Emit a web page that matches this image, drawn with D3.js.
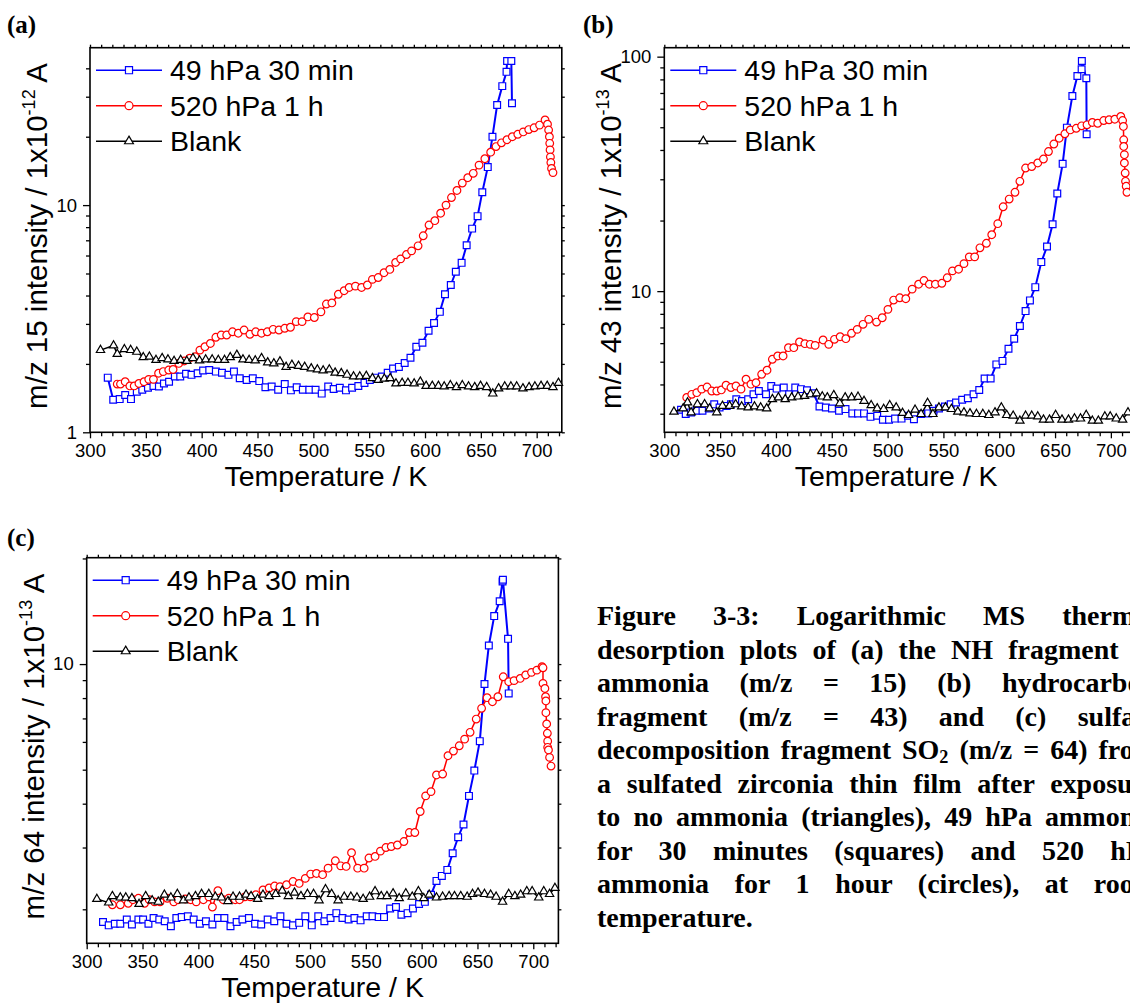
<!DOCTYPE html>
<html><head><meta charset="utf-8">
<script src="https://cdn.jsdelivr.net/npm/d3@7"></script>
<style>
html,body{margin:0;padding:0;overflow:hidden;background:#fff;}
#wrap{position:relative;width:1130px;height:1003px;overflow:hidden;background:#fff;}
#chart{position:absolute;left:0;top:0;}
#caption{position:absolute;left:597px;top:599px;width:560px;font-family:"Liberation Serif","Times New Roman",serif;font-weight:bold;font-size:28px;line-height:33.5px;color:#000;}
#caption .ln{text-align:justify;text-align-last:justify;height:33.5px;}
#caption .ln.last{text-align:left;text-align-last:left;}
#caption sub{font-size:0.65em;vertical-align:-0.22em;line-height:0;}
</style>
</head><body>
<div id="wrap"><svg id="chart" width="1130" height="1003"></svg><div id="caption"></div></div>
<script>
// ---------- data (Temperature K, intensity) ----------
const xMajorTicks = [300,350,400,450,500,550,600,650,700];
const xMinorTicks = [310,320,330,340,360,370,380,390,410,420,430,440,460,470,480,490,510,520,530,540,560,570,580,590,610,620,630,640,660,670,680,690,710,720];
const seriesNames = ["49 hPa 30 min","520 hPa 1 h","Blank"];

const a49 = [[315.9,1.74],[320.8,1.39],[326.6,1.40],[331.5,1.46],[336.7,1.40],[341.9,1.51],[346.8,1.54],[351.9,1.57],[356.8,1.60],[361.7,1.59],[366.2,1.64],[370.8,1.67],[376,1.76],[380.8,1.76],[386,1.81],[390.9,1.79],[396.4,1.82],[401.3,1.87],[406.8,1.88],[412.7,1.85],[418.2,1.83],[424,1.79],[428.9,1.85],[434.1,1.73],[440.3,1.70],[445.8,1.73],[451.6,1.68],[457.1,1.58],[462.7,1.59],[468.5,1.54],[474.4,1.63],[479.9,1.53],[485.1,1.58],[490.6,1.54],[496.4,1.54],[502,1.54],[507.5,1.48],[513.3,1.59],[518.2,1.55],[523.7,1.57],[529.2,1.53],[534.7,1.57],[540.3,1.60],[545.8,1.65],[550.6,1.70],[556.2,1.74],[561.4,1.76],[566.6,1.83],[571.4,1.91],[576.6,1.94],[581.8,2.02],[587,2.13],[592.2,2.38],[597.7,2.48],[603.2,2.80],[608.1,3.03],[613.3,3.39],[617.9,4.05],[623.1,4.45],[627.6,5.09],[632.8,5.57],[637.3,6.66],[642.2,7.88],[647.1,8.94],[651.3,11.4],[656.2,14.7],[660.4,20.0],[664.6,27.6],[669.2,33.4],[673,38.6],[673.5,43.1],[677.3,43.1],[677.9,28.1]];
const a520 = [[324.4,1.63],[327.3,1.63],[331.5,1.67],[335.7,1.60],[339.6,1.60],[343.8,1.64],[348.4,1.67],[352.6,1.71],[356.8,1.71],[361.4,1.82],[365.6,1.85],[370.5,1.88],[374.4,1.89],[379.5,2.01],[384.4,2.06],[389.3,2.12],[394.2,2.15],[398.4,2.30],[402.9,2.38],[407.8,2.46],[412.7,2.62],[417.5,2.68],[422.4,2.68],[427.6,2.77],[432.8,2.73],[438,2.82],[443.2,2.70],[448.4,2.77],[453.6,2.73],[458.8,2.77],[464,2.84],[469.2,2.82],[474.4,2.87],[479.5,2.90],[484.7,3.07],[489.9,3.07],[495.1,3.22],[500.9,3.20],[506.8,3.39],[511.7,3.67],[516.6,3.71],[522.4,4.05],[527.6,4.20],[532.1,4.34],[537.7,4.40],[543.2,4.34],[548.4,4.45],[552.9,4.71],[558.1,4.80],[563.3,5.04],[568.5,5.21],[573.7,5.59],[578.2,5.80],[583.4,6.06],[588,6.29],[593.8,6.62],[598.4,7.33],[603.6,8.17],[608.8,8.54],[614,9.21],[618.8,10.0],[623.7,10.8],[628.6,11.6],[633.4,12.5],[638.3,13.2],[643.2,13.8],[648.4,15.0],[653.6,16.0],[658.8,17.1],[663.6,18.1],[668.5,18.8],[673.4,19.4],[678.2,20.0],[683.1,20.5],[688,21.0],[692.9,21.5],[697.7,21.9],[702.6,22.5],[707.5,23.7],[709.7,22.7],[710.7,21.4],[711.4,20.0],[711.7,18.7],[712,17.5],[712.3,16.3],[712.7,15.4],[713.3,14.5],[714.6,13.9]];
const aBlank = [[309.4,2.30],[321.1,2.41],[324.4,2.21],[330.8,2.32],[336.4,2.30],[341.9,2.26],[347.7,2.14],[353.2,2.15],[359.1,2.08],[364.6,2.12],[369.8,2.09],[375.3,2.06],[381.2,2.08],[386.7,2.06],[392.2,2.12],[398.1,2.07],[403.6,2.09],[409.4,2.09],[414.9,2.08],[420.5,2.08],[425.6,2.14],[431.5,2.19],[437,2.09],[442.5,2.08],[448,2.07],[453.6,2.12],[459.1,2.03],[464.6,2.01],[470.1,2.05],[475.6,1.94],[480.8,1.98],[486.7,1.96],[492.2,1.94],[498.1,1.91],[503.6,1.89],[508.8,1.87],[514.3,1.89],[519.5,1.83],[525,1.82],[530.2,1.79],[536,1.76],[541.6,1.76],[547.4,1.77],[552.9,1.73],[558.1,1.70],[563.6,1.72],[568.8,1.73],[574,1.64],[579.5,1.65],[584.7,1.65],[590.3,1.64],[595.8,1.67],[601,1.60],[606.5,1.60],[612,1.60],[617.2,1.59],[622.7,1.61],[628.2,1.58],[633.4,1.61],[639,1.59],[644.5,1.58],[649.7,1.60],[655.2,1.58],[660.7,1.48],[665.9,1.56],[671.4,1.59],[676.9,1.59],[682.1,1.59],[687.7,1.56],[693.2,1.58],[698.4,1.59],[703.9,1.60],[709.4,1.60],[714.6,1.58],[719.5,1.65]];

const b49 = [[315,3.12],[319.2,2.99],[324,3.04],[328.8,3.09],[334.2,3.09],[339.9,3.16],[344.7,3.29],[349.5,3.19],[355.9,3.24],[359.7,3.29],[364.5,3.46],[369.6,3.40],[375.1,3.46],[379.9,3.63],[384.7,3.75],[391.1,3.63],[395.8,3.94],[400.6,3.84],[407,3.88],[411.8,3.63],[417.3,3.88],[422.4,3.82],[427.8,3.78],[433.5,3.67],[439,3.22],[444.7,3.19],[450.2,3.16],[456.5,3.09],[462.3,3.14],[468.4,3.01],[473.5,3.01],[478.9,3.01],[484.7,2.91],[490.7,2.94],[495.8,2.83],[501.3,2.83],[506.7,2.86],[512.5,2.86],[518.2,2.94],[523.6,2.84],[530,2.99],[536.4,3.01],[541.2,3.09],[546,3.16],[551.4,3.22],[556.5,3.29],[561.3,3.35],[566.8,3.44],[571.9,3.49],[577,3.63],[582.1,3.79],[586.9,4.24],[592.3,4.24],[597.4,4.87],[602.9,5.04],[608.3,5.68],[613.4,6.27],[618.5,7.10],[623.6,8.22],[627.5,9.13],[632.3,10.4],[637.7,13.3],[642.8,15.5],[647.8,19.3],[652,26.1],[656.8,34.9],[660.6,49.8],[665.5,68.0],[670,82.7],[673.8,88.4],[674,95.9],[678,80.9],[678.3,46.7]];
const b520 = [[320.1,3.52],[324.6,3.63],[329.1,3.69],[333.5,3.82],[338.3,3.90],[342.5,3.75],[347,3.75],[351.1,3.79],[355.3,3.97],[359.7,3.88],[364.2,3.94],[368.7,3.82],[373.2,4.21],[377.6,4.01],[382.1,4.07],[387.2,4.42],[392,4.60],[396.8,5.12],[401.6,5.29],[406.4,5.29],[411.2,5.74],[416,5.74],[421.1,6.07],[425.9,5.97],[430.7,5.93],[435.1,5.87],[442.2,6.19],[447.3,5.93],[452.4,6.23],[457.5,6.39],[462.6,6.27],[467.7,6.61],[472.8,6.87],[478,7.22],[483.1,7.58],[490.1,7.38],[495.2,7.70],[500.3,8.36],[505.4,9.16],[510.9,9.37],[516.3,9.28],[522,10.2],[527.8,10.7],[532.6,11.1],[537.4,10.7],[542.8,10.7],[548.6,10.8],[553.4,11.4],[558.1,12.2],[563.6,12.4],[568.4,13.1],[573.2,14.0],[578,14.0],[582.7,15.3],[588.5,16.0],[593.3,17.4],[598.7,19.4],[603.5,22.9],[608.9,24.7],[614.1,26.4],[618.5,29.4],[623.6,33.5],[629.1,34.0],[634.5,35.2],[639.6,36.6],[644.1,39.4],[648.9,42.4],[653.7,44.9],[658.8,46.9],[663.6,48.7],[669,49.5],[673.8,50.7],[678.6,51.2],[683.4,52.4],[688.2,52.0],[693.6,53.4],[698.4,53.8],[703.5,54.1],[708.9,55.6],[710.5,53.4],[711.2,50.4],[711.5,44.2],[711.5,41.4],[712.1,38.2],[712.1,35.2],[712.8,31.9],[713.1,29.4],[713.7,28.0],[714.4,26.4]];
const bBlank = [[308.6,3.06],[316.9,3.16],[320.8,3.35],[324,3.04],[329.7,3.29],[336.1,3.29],[340.6,3.16],[347,3.04],[352.1,3.24],[358.5,3.24],[363.9,3.29],[369.3,3.22],[375.1,3.19],[380.8,3.22],[386.3,3.19],[391.7,3.16],[396.8,3.46],[402.2,3.52],[408.3,3.46],[414.1,3.52],[419.8,3.55],[425.6,3.57],[431,3.63],[436.4,3.66],[441.5,3.55],[446,3.52],[451.8,3.60],[457.2,3.32],[462,3.52],[467.7,3.52],[473.5,3.54],[478.9,3.40],[485.3,3.26],[490.7,3.16],[496.5,3.14],[501.9,3.26],[507.7,3.19],[513.4,3.02],[518.8,2.96],[524.6,3.12],[530,2.99],[535.8,3.33],[540.6,2.99],[546,3.19],[551.8,3.19],[557.2,3.14],[562.9,3.06],[568.4,3.04],[573.8,3.01],[579.6,2.99],[585.3,2.99],[590.7,2.96],[596.2,3.04],[601.9,3.19],[606.7,2.96],[612.5,2.94],[618.5,2.80],[623.6,2.94],[629.1,2.94],[634.5,2.92],[639.6,2.83],[645,2.83],[650.5,2.96],[656.2,2.83],[662,2.83],[667.4,2.86],[672.8,2.86],[677.9,2.96],[683.4,2.80],[688.8,2.80],[694.6,2.92],[699.4,2.92],[704.8,2.86],[710.5,2.83],[715.3,3.04]];

const c49 = [[314.6,1.84],[319.7,1.80],[325.2,1.82],[330.1,1.82],[335.9,1.87],[340.5,1.81],[346.3,1.87],[350.5,1.87],[355.3,1.82],[359.9,1.89],[365,1.87],[369.9,1.85],[375.4,1.79],[380.3,1.89],[385.1,1.90],[390.6,1.91],[395.8,1.87],[401.3,1.82],[406.8,1.85],[412.6,1.81],[417.5,1.89],[423.3,1.89],[428.8,1.79],[434.3,1.84],[439.5,1.87],[445.3,1.89],[450.8,1.82],[456.3,1.81],[462.1,1.87],[468,1.85],[473.5,1.91],[479,1.82],[484.8,1.80],[490.3,1.83],[495.8,1.91],[501.6,1.80],[507.4,1.91],[512.9,1.85],[518.4,1.89],[523.6,1.95],[529.1,1.89],[534.6,1.87],[539.8,1.89],[545.3,1.86],[550.8,1.91],[556,1.91],[561.5,1.90],[566.3,1.90],[571.8,2.01],[577,2.03],[581.9,1.93],[587.4,1.95],[592.2,2.01],[597.7,2.07],[602.9,2.10],[608.4,2.20],[613.3,2.41],[618.1,2.49],[623,2.59],[627.8,2.89],[632.7,3.21],[637.5,3.49],[642.4,4.21],[647.2,4.97],[652.1,6.03],[656.3,8.77],[660.2,11.3],[665,13.7],[669.9,15.1],[672.5,17.2],[672.8,17.4],[677.4,11.8],[678,8.25]];
const c520 = [[323,2.06],[330.1,2.06],[337.2,2.08],[341.4,2.13],[346.3,2.15],[351.8,2.08],[356,2.13],[360.8,2.10],[365.7,2.10],[372.2,2.15],[378,2.10],[381.9,2.13],[388.3,2.14],[393.2,2.13],[398.1,2.10],[404.5,2.13],[409.4,2.17],[412.6,2.03],[417.5,2.26],[422.3,2.13],[427.2,2.15],[433,2.13],[436.9,2.13],[441.7,2.17],[446.6,2.17],[451.5,2.20],[457.9,2.27],[463.4,2.30],[468.3,2.33],[473.1,2.32],[479,2.35],[484.8,2.40],[490.3,2.37],[495.8,2.45],[500.6,2.52],[505.8,2.53],[511.3,2.51],[516.2,2.62],[522.7,2.75],[527.5,2.66],[532.4,2.65],[537.2,2.90],[542.7,2.62],[548.5,2.62],[552.8,2.80],[558.3,2.83],[563.1,2.93],[568,3.00],[572.8,3.02],[578.3,3.05],[584.1,3.12],[589,3.31],[593.9,3.31],[598.7,3.80],[603.6,4.21],[608.4,4.33],[613.3,4.83],[618.8,4.86],[623.6,5.48],[628.5,5.65],[633.7,5.85],[638.5,6.11],[643.4,6.39],[648.9,6.97],[653.7,7.48],[658.6,8.02],[663.4,7.81],[668.3,8.07],[673.1,9.20],[678,8.91],[682.8,8.97],[688.3,9.10],[693.2,9.31],[698.4,9.47],[703.2,9.61],[707.8,9.83],[708.7,9.76],[708.7,8.81],[710.4,8.52],[711,8.07],[711.3,7.85],[711.3,7.27],[712,6.75],[712.6,6.35],[712.9,6.03],[712.9,5.79],[713.6,5.69],[714.6,5.42],[715.9,5.12]];
const cBlank = [[309.1,2.14],[319.7,2.09],[323,2.18],[330.1,2.16],[335,2.16],[340.5,2.15],[346.9,2.07],[352.8,2.18],[358.6,2.12],[364.1,2.10],[369.6,2.20],[375.4,2.16],[381.2,2.21],[386.7,2.12],[391.6,2.16],[397.4,2.18],[402.9,2.21],[409.4,2.21],[415.2,2.17],[420.7,2.16],[426.5,2.11],[431.1,2.17],[436.9,2.17],[442.7,2.20],[447.2,2.18],[453.1,2.14],[457.9,2.20],[463.4,2.18],[469.3,2.21],[475.1,2.26],[480.6,2.18],[486.1,2.23],[491.9,2.18],[497.7,2.21],[503.2,2.21],[508.1,2.12],[513.9,2.28],[519.4,2.21],[525.2,2.12],[530.7,2.17],[536.6,2.17],[542.1,2.16],[547.6,2.14],[553.4,2.17],[558.3,2.25],[563.8,2.18],[568.9,2.18],[574.4,2.22],[579.9,2.15],[585.8,2.22],[591.6,2.17],[597.1,2.25],[601.9,2.15],[606.8,2.20],[613.3,2.16],[618.8,2.17],[624.6,2.18],[629.4,2.18],[635,2.18],[640.8,2.17],[645.6,2.21],[650.5,2.23],[656.3,2.21],[661.8,2.20],[666.7,2.17],[672.5,2.10],[678,2.21],[683.5,2.18],[688.7,2.20],[694.2,2.25],[699,2.25],[704.9,2.16],[709.4,2.25],[714.6,2.21],[719.4,2.30]];

const aYMajor = [1,10], aYMinor = [2,3,4,5,6,7,8,9,20,30,40];
const bYMajor = [10,100], bYMinor = [3,4,5,6,7,8,9,20,30,40,50,60,70,80,90];
const cYMajor = [10], cYMinor = [2,3,4,5,6,7,8,9,20];

const captionLines = [
 'Figure 3-3: Logarithmic MS thermal',
 'desorption plots of (a) the NH fragment of',
 'ammonia (m/z = 15) (b) hydrocarbon',
 'fragment (m/z = 43) and (c) sulfate',
 'decomposition fragment SO<sub>2</sub> (m/z = 64) from',
 'a sulfated zirconia thin film after exposure',
 'to no ammonia (triangles), 49 hPa ammonia',
 'for 30 minutes (squares) and 520 hPa',
 'ammonia for 1 hour (circles), at room',
 'temperature.'
];

// ---------- layout ----------
const SANS = '"Liberation Sans", Arial, sans-serif';
const SERIF = '"Liberation Serif", "Times New Roman", serif';
const xDomain = [300, 722.5];
const styles = [
  {color:'#0000ff', width:2, symbol:d3.symbolSquare, size:46},
  {color:'#ff0000', width:1.5, symbol:d3.symbolCircle, size:46},
  {color:'#000000', width:1.5, symbol:d3.symbolTriangle, size:30}
];
const panels = [
  {label:'(a)', lx:7, ly:33, left:90, right:561.8, top:47.7, bottom:432.3, yDomain:[1,49.3], yMajor:aYMajor, yMinor:aYMinor, mz:'15', ex:'-12', data:[a49,a520,aBlank], tdx:0},
  {label:'(b)', lx:583, ly:33, left:664.3, right:1136, top:47.7, bottom:432.3, yDomain:[2.5,109.2], yMajor:bYMajor, yMinor:bYMinor, mz:'43', ex:'-13', data:[b49,b520,bBlank], tdx:-4},
  {label:'(c)', lx:7, ly:546, left:86.7, right:558.4, top:557.7, bottom:943.3, yDomain:[1.6,20.1], yMajor:cYMajor, yMinor:cYMinor, mz:'64', ex:'-13', data:[c49,c520,cBlank], tdx:0}
];

const svg = d3.select('#chart');

function styleAxis(sel){
  sel.attr('font-family', SANS).attr('font-size', 18.5);
  sel.select('.domain').remove();
  sel.selectAll('line').attr('stroke','#000').attr('stroke-width',1.3);
  sel.selectAll('text').attr('fill','#000');
}

panels.forEach(p => {
  const x = d3.scaleLinear().domain(xDomain).range([p.left, p.right]);
  const y = d3.scaleLog().domain(p.yDomain).range([p.bottom, p.top]);
  const g = svg.append('g');

  // bottom axis
  g.append('g').attr('transform',`translate(0,${p.bottom})`)
    .call(d3.axisBottom(x).tickValues(xMajorTicks).tickSize(6).tickSizeOuter(0).tickPadding(5.5).tickFormat(d=>String(d)))
    .call(styleAxis);
  g.append('g').attr('transform',`translate(0,${p.bottom})`)
    .call(d3.axisBottom(x).tickValues(xMinorTicks).tickSize(4).tickSizeOuter(0).tickFormat(''))
    .call(styleAxis);
  // top axis (ticks only)
  g.append('g').attr('transform',`translate(0,${p.top})`)
    .call(d3.axisTop(x).tickValues(xMajorTicks.concat(xMinorTicks)).tickSize(3).tickSizeOuter(0).tickFormat(''))
    .call(styleAxis);
  // left axis
  g.append('g').attr('transform',`translate(${p.left},0)`)
    .call(d3.axisLeft(y).tickValues(p.yMajor).tickSize(7).tickSizeOuter(0).tickPadding(6).tickFormat(d=>String(d)))
    .call(styleAxis);
  g.append('g').attr('transform',`translate(${p.left},0)`)
    .call(d3.axisLeft(y).tickValues(p.yMinor).tickSize(4).tickSizeOuter(0).tickFormat(''))
    .call(styleAxis);
  // right axis (ticks only)
  g.append('g').attr('transform',`translate(${p.right},0)`)
    .call(d3.axisRight(y).tickValues(p.yMajor.concat(p.yMinor)).tickSize(3).tickSizeOuter(0).tickFormat(''))
    .call(styleAxis);

  // frame
  g.append('rect').attr('x',p.left).attr('y',p.top)
    .attr('width',p.right-p.left).attr('height',p.bottom-p.top)
    .attr('fill','none').attr('stroke','#000').attr('stroke-width',1.6);

  // series
  const line = d3.line().x(d=>x(d[0])).y(d=>y(d[1]));
  p.data.forEach((ser, i) => {
    const st = styles[i];
    const sg = g.append('g');
    sg.append('path').datum(ser).attr('d',line).attr('fill','none')
      .attr('stroke',st.color).attr('stroke-width',st.width).attr('stroke-linejoin','round');
    sg.selectAll('path.m').data(ser).join('path').attr('class','m')
      .attr('d', d3.symbol().type(st.symbol).size(st.size)())
      .attr('transform', d=>`translate(${x(d[0])},${y(d[1])})`)
      .attr('fill','#fff').attr('stroke',st.color).attr('stroke-width',1.2);
  });

  // legend
  const lg = g.append('g');
  seriesNames.forEach((name,i) => {
    const st = styles[i];
    const cy = p.top + 22.5 + i*35.5;
    lg.append('line').attr('x1',p.left+6).attr('x2',p.left+72).attr('y1',cy).attr('y2',cy)
      .attr('stroke',st.color).attr('stroke-width',1.6);
    lg.append('path').attr('d', d3.symbol().type(st.symbol).size(st.size+4)())
      .attr('transform',`translate(${p.left+39},${cy})`)
      .attr('fill','#fff').attr('stroke',st.color).attr('stroke-width',1.2);
    lg.append('text').attr('x',p.left+80).attr('y',cy+10)
      .attr('font-family',SANS).attr('font-size',28.5).attr('fill','#000').text(name);
  });

  // x title
  g.append('text').attr('x',(p.left+p.right)/2 + p.tdx).attr('y',p.bottom+54)
    .attr('text-anchor','middle').attr('font-family',SANS).attr('font-size',28.5).attr('fill','#000')
    .text('Temperature / K');
  // y title
  const cyT = (p.top+p.bottom)/2 - 4;
  const yt = g.append('text').attr('transform',`translate(${p.left-43},${cyT}) rotate(-90)`)
    .attr('text-anchor','middle').attr('font-family',SANS).attr('font-size',29.5).attr('fill','#000');
  yt.append('tspan').text(`m/z ${p.mz} intensity / 1x10`);
  yt.append('tspan').attr('font-size',18).attr('dy',-12).text(p.ex);
  yt.append('tspan').attr('dy',12).text(' A');

  // panel label
  svg.append('text').attr('x',p.lx).attr('y',p.ly).attr('font-family',SERIF)
    .attr('font-weight','bold').attr('font-size',25).attr('fill','#000').text(p.label);
});

// caption
d3.select('#caption').selectAll('div').data(captionLines).join('div')
  .attr('class',(d,i)=> i===captionLines.length-1 ? 'ln last' : 'ln')
  .html(d=>d);
</script>
</body></html>
